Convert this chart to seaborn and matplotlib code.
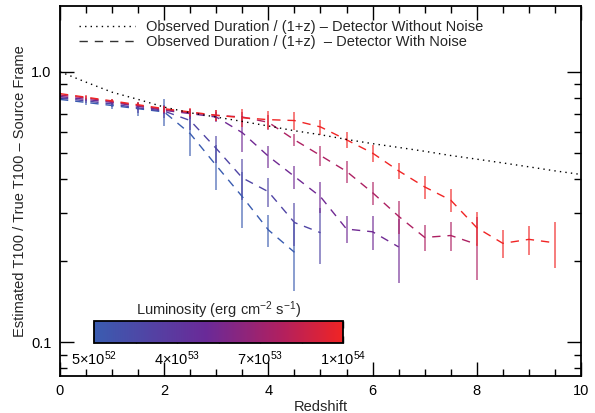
import matplotlib
matplotlib.use("Agg")
import numpy as np
import pandas as pd
import matplotlib.pyplot as plt
import seaborn as sns
from matplotlib.colors import LinearSegmentedColormap, Normalize
from matplotlib.cm import ScalarMappable
from matplotlib.lines import Line2D
from matplotlib.ticker import FixedLocator, NullFormatter

# --- data ------------------------------------------------------------------
z_clean = [0, 0.5, 1, 1.5, 2, 2.5, 3, 3.5, 4, 4.5, 5, 5.5, 6, 6.5, 7, 7.5, 8, 8.5, 9, 9.5, 10]
ratio_clean = [1.0, 0.915, 0.84, 0.79, 0.74, 0.705, 0.68, 0.655, 0.63, 0.605, 0.585,
               0.562, 0.542, 0.525, 0.508, 0.49, 0.475, 0.46, 0.445, 0.43, 0.417]

z_grid = [0, 0.5, 1, 1.5, 2, 2.5, 3, 3.5, 4, 4.5, 5, 5.5, 6, 6.5, 7, 7.5, 8, 8.5, 9, 9.5]
luminosity = [5e52, 2.5e53, 5e53, 7.5e53, 1e54]

ratio_l1 = [0.79, 0.77, 0.75, 0.73, 0.71, 0.59, 0.45, 0.345, 0.26, 0.215]
err_l1 = [0.01, 0.015, 0.02, 0.045, 0.08, 0.1, 0.085, 0.08, 0.035, 0.06]

ratio_l2 = [0.80, 0.78, 0.76, 0.735, 0.715, 0.66, 0.52, 0.405, 0.36, 0.277, 0.254]
err_l2 = [0.01, 0.015, 0.02, 0.03, 0.04, 0.05, 0.06, 0.07, 0.045, 0.05, 0.06]

ratio_l3 = [0.81, 0.79, 0.77, 0.745, 0.72, 0.70, 0.68, 0.595, 0.487, 0.41, 0.345,
            0.262, 0.256, 0.225]
err_l3 = [0.01, 0.012, 0.015, 0.02, 0.025, 0.03, 0.03, 0.09, 0.045, 0.04, 0.045,
          0.03, 0.037, 0.06]

ratio_l4 = [0.82, 0.80, 0.775, 0.75, 0.725, 0.705, 0.69, 0.68, 0.65, 0.56, 0.49,
            0.428, 0.357, 0.292, 0.244, 0.248, 0.23]
err_l4 = [0.01, 0.012, 0.015, 0.018, 0.02, 0.025, 0.03, 0.03, 0.04, 0.03, 0.043,
          0.04, 0.035, 0.04, 0.027, 0.03, 0.06]

ratio_l5 = [0.83, 0.805, 0.78, 0.755, 0.73, 0.71, 0.69, 0.676, 0.665, 0.66, 0.625,
            0.56, 0.50, 0.43, 0.375, 0.335, 0.265, 0.232, 0.24, 0.233]
err_l5 = [0.01, 0.012, 0.014, 0.016, 0.02, 0.025, 0.035, 0.05, 0.05, 0.05, 0.04,
          0.037, 0.038, 0.03, 0.037, 0.032, 0.038, 0.028, 0.03, 0.045]

cbar_ticks = [5e52, 3.667e53, 6.833e53, 1e54]
cbar_labels = ["5\u00d710$^{52}$", "4\u00d710$^{53}$", "7\u00d710$^{53}$", "1\u00d710$^{54}$"]

# --- build long table -------------------------------------------------------
series = [(ratio_l1, err_l1), (ratio_l2, err_l2), (ratio_l3, err_l3),
          (ratio_l4, err_l4), (ratio_l5, err_l5)]
rows = []
for lum, (r, e) in zip(luminosity, series):
    for z, v, ev in zip(z_grid, r, e):
        rows.append({"z": z, "ratio": v, "err": ev, "lum": lum})
df = pd.DataFrame(rows)

# --- style ------------------------------------------------------------------
sns.set_theme(style="ticks")
plt.rcParams['font.family'] = ['Liberation Sans', 'DejaVu Sans']
plt.rcParams['mathtext.fontset'] = 'custom'
plt.rcParams['mathtext.rm'] = 'Liberation Sans'
plt.rcParams['mathtext.it'] = 'Liberation Sans:italic'

cmap = LinearSegmentedColormap.from_list(
    "lum", [(0.0, "#3a5cb0"), (0.45, "#6a2a98"), (0.75, "#b02060"), (1.0, "#f02424")])
norm = Normalize(vmin=5e52, vmax=1e54)

fig = plt.figure(figsize=(5.95, 4.13), dpi=100)
ax = fig.add_axes([0.1008, 0.0896, 0.8757, 0.8959])

# error bars (lighter)
for lum, g in df.groupby("lum"):
    ax.errorbar(g["z"], g["ratio"], yerr=g["err"], fmt="none",
                ecolor=cmap(norm(lum)), alpha=0.6, elinewidth=1.4, capsize=0)

# dashed luminosity curves
sns.lineplot(data=df, x="z", y="ratio", hue="lum", palette=cmap, hue_norm=norm,
             estimator=None, legend=False, ax=ax, linewidth=1.0,
             linestyle=(0, (6, 5)))

# observed duration, no noise
sns.lineplot(x=z_clean, y=ratio_clean, color="black", linewidth=1.0,
             linestyle=(0, (1, 3)), ax=ax)

ax.set_yscale("log")
ax.set_xlim(0, 10)
ax.set_ylim(0.075, 1.75)
ax.set_xticks([0, 2, 4, 6, 8, 10])
ax.set_xticklabels(["0", "2", "4", "6", "8", "10"])
ax.xaxis.set_minor_locator(FixedLocator([0.5 * i for i in range(21)]))
ax.set_yticks([0.1, 1.0])
ax.set_yticklabels(["0.1", "1.0"])
ax.yaxis.set_minor_locator(FixedLocator([0.08, 0.09, 0.2, 0.3, 0.4, 0.5, 0.6, 0.7, 0.8, 0.9]))
ax.yaxis.set_minor_formatter(NullFormatter())
ax.tick_params(which="both", direction="in", top=True, right=True,
               colors="black", labelsize=10.5, width=1.0)
ax.tick_params(which="major", length=10, pad=6)
ax.tick_params(which="minor", length=5)
for s in ax.spines.values():
    s.set_color("black")
    s.set_linewidth(1.3)

ax.set_xlabel("Redshift", fontsize=10.5, labelpad=1)
ax.set_ylabel("Estimated T100 / True T100 \u2013 Source Frame", fontsize=10.5, labelpad=3)

handles = [Line2D([], [], color="black", linestyle=(0, (1, 3)), linewidth=1.0),
           Line2D([], [], color="#333333", linestyle=(0, (6, 5)), linewidth=1.0)]
labels = ["Observed Duration / (1+z) \u2013 Detector Without Noise",
          "Observed Duration / (1+z)  \u2013 Detector With Noise"]
ax.legend(handles, labels, loc="upper left", bbox_to_anchor=(0.02, 0.985),
          frameon=False, fontsize=10.5, handlelength=3.8, handletextpad=0.8,
          labelspacing=0.05, borderaxespad=0.2)

# colour bar
cax = fig.add_axes([0.158, 0.1702, 0.4185, 0.0533])
sm = ScalarMappable(norm=norm, cmap=cmap)
cb = fig.colorbar(sm, cax=cax, orientation="horizontal")
cb.set_ticks(cbar_ticks)
cb.set_ticklabels(cbar_labels)
cax.xaxis.set_minor_locator(FixedLocator([2.083e53, 5.25e53, 8.417e53]))
cax.tick_params(which="both", direction="in", top=True, bottom=True,
                labelsize=10.5, colors="black", width=1.0, pad=5)
cax.tick_params(which="major", length=5)
cax.tick_params(which="minor", length=5)
cb.outline.set_linewidth(1.3)
cb.outline.set_edgecolor("black")
cax.set_title("Luminosity (erg cm$^{-2}$ s$^{-1}$)", fontsize=10.5, pad=3)

fig.savefig("out.png", dpi=100)
